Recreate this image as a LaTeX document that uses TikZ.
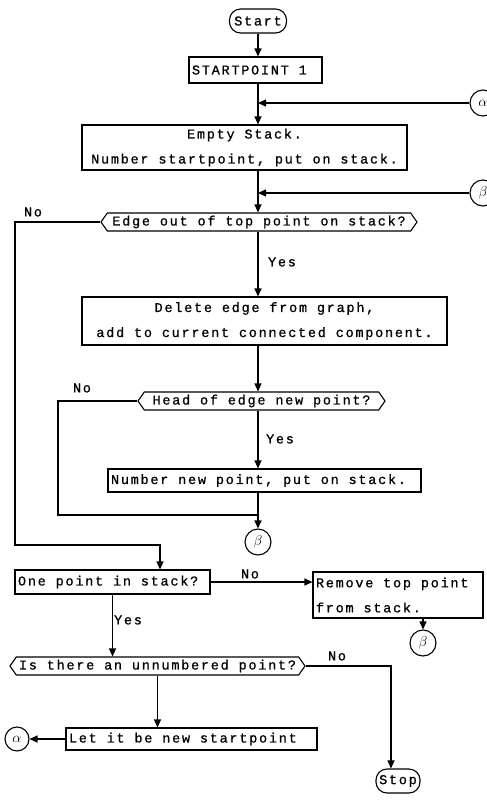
\documentclass[tikz,border=0pt]{standalone}
\usepackage{fontspec}
\newfontfamily\typewriter{Liberation Mono}[LetterSpace=13,FakeBold=0.8]
\newcommand\tw{\typewriter\fontsize{13.5}{25}\selectfont}
\usetikzlibrary{arrows.meta,shapes.symbols}
\tikzset{
  line/.style={line width=1.2pt},
  flow/.style={line width=1.2pt, -{Triangle[length=8pt,width=7pt]}},
  box/.style={draw, line width=1.1pt, inner sep=3pt, font=\tw,
    execute at begin node={\spaceskip=\fontdimen2\font\xspaceskip=\fontdimen2\font}},
  term/.style={draw, line width=1.1pt, rounded corners=11pt, minimum height=24pt, inner sep=2pt, font=\tw},
  decision/.style={signal, signal to=west and east, signal pointer angle=110,
    draw, line width=1.1pt, minimum height=18pt, inner sep=1pt, font=\tw},
  connector/.style={circle, draw, line width=1.1pt, minimum size=26pt, inner sep=0pt,
    font=\fontsize{15}{17}\selectfont},
  lab/.style={font=\tw}
}
\begin{document}
\begin{tikzpicture}[x=1pt,y=-1pt]
  \useasboundingbox (0,0) rectangle (487,803);
  % main column
  \node[term, minimum width=57pt] (start) at (258,21) {Start};
  \node[box, minimum height=26pt, text width=127pt, align=left] (sp) at (255.5,70) {STARTPOINT 1};
  \node[box, minimum height=45pt, text width=319pt, align=center] (empty) at (244.5,147.5)
    {Empty Stack.\\Number startpoint, put on stack.};
  \node[decision, minimum width=316pt] (edge) at (259,222) {Edge out of top point on stack?};
  \node[box, minimum height=48pt, text width=359pt, align=center] (delete) at (264.5,321)
    {Delete edge from graph,\\add to current connected component.};
  \node[decision, minimum width=247pt] (head) at (261.5,401) {Head of edge new point?};
  \node[box, minimum height=23pt, text width=307pt, align=left] (number) at (264.5,480.5)
    {Number new point, put on stack.};
  \node[connector] (betaB) at (258,542) {$\beta$};
  % lower part
  \node[box, minimum height=24pt, text width=189pt, align=left] (one) at (112.5,582) {One point in stack?};
  \node[box, minimum height=46pt, text width=164pt, align=left] (remove) at (398,595)
    {Remove top point\\from stack.};
  \node[connector] (betaC) at (423,643) {$\beta$};
  \node[decision, minimum width=295pt] (unnum) at (157.5,666) {Is there an unnumbered point?};
  \node[box, minimum height=22pt, text width=245pt, align=left] (let) at (191.5,739)
    {Let it be new startpoint};
  \node[connector, minimum size=24pt] (alphaB) at (17,739) {$\alpha$};
  \node[term, minimum width=44pt] (stop) at (398,781) {Stop};
  % off-page connectors
  \node[connector] (alpha) at (483,103) {$\alpha$};
  \node[connector] (betaA) at (483,193) {$\beta$};
  % labels
  \node[lab] (noA) at (33,212) {No};
  \node[lab] (yesA) at (282,262) {Yes};
  \node[lab] (noB) at (82,388) {No};
  \node[lab] (yesB) at (280,439) {Yes};
  \node[lab] (noC) at (250,574) {No};
  \node[lab] (yesC) at (128,620) {Yes};
  \node[lab] (noD) at (337,656) {No};
  % turning points
  \coordinate (joinA) at (258,103);
  \coordinate (joinB) at (258,193);
  \coordinate (joinC) at (258,515);
  \coordinate (loopA) at (15,545);
  \coordinate (loopB) at (160,545);
  \coordinate (loopC) at (58,515);
  % connectors
  \draw[flow] (start) -- (start |- sp.north);
  \draw[flow] (start |- sp.south) -- (start |- empty.north);
  \draw[flow] (alpha) -- (joinA);
  \draw[flow] (start |- empty.south) -- (start |- edge.north);
  \draw[flow] (betaA) -- (joinB);
  \draw[flow] (start |- edge.south) -- (start |- delete.north);
  \draw[flow] (start |- delete.south) -- (start |- head.north);
  \draw[flow] (start |- head.south) -- (start |- number.north);
  \draw[flow] (start |- number.south) -- (betaB);
  \draw[line] (head.west) -| (loopC) -- (joinC);
  \draw[flow] (edge.west) -| (loopA) -- (loopB) -- (loopB |- one.north);
  \draw[flow] (one.east) -- (one.east -| remove.west);
  \draw[flow] (betaC |- remove.south) -- (betaC);
  \draw[flow] (one.south) -- (one.south |- unnum.north);
  \draw[flow] (unnum.south) -- (unnum.south |- let.north);
  \draw[flow] (let) -- (alphaB);
  \draw[flow] (unnum.east) -| ([xshift=-7pt]stop.north);
\end{tikzpicture}
\end{document}
